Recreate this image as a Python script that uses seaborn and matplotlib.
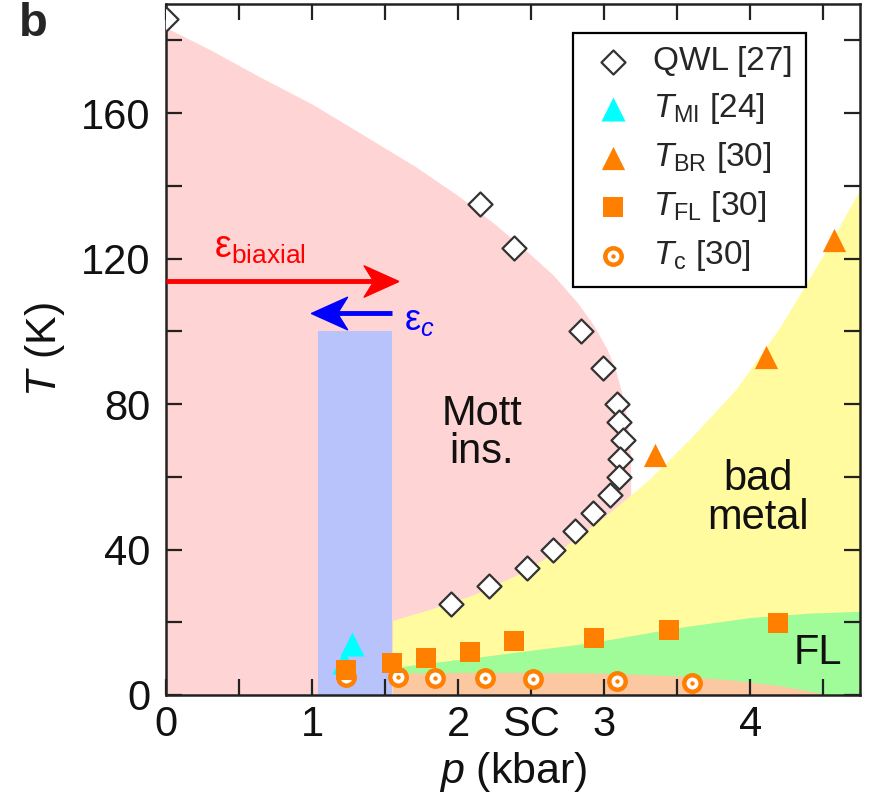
import matplotlib
matplotlib.use("Agg")
import matplotlib.pyplot as plt
import seaborn as sns
from matplotlib.legend_handler import HandlerTuple
from matplotlib.ticker import MultipleLocator

# ---- data ----
# QWL [27]
qwl_p = [0.0, 2.15, 2.38, 2.84, 2.99, 3.09, 3.10, 3.13, 3.11, 3.10, 3.04, 2.92, 2.80, 2.65, 2.47, 2.21, 1.95]
qwl_t = [186, 135, 123, 100, 90, 80, 75, 70, 65, 60, 55, 50, 45, 40, 35, 30, 25]
# T_MI [24]
mi_p = [1.22, 1.27]
mi_t = [9, 14]
# T_BR [30]
br_p = [3.35, 4.11, 4.57]
br_t = [66, 93, 125]
# T_FL [30]
fl_p = [1.23, 1.55, 1.78, 2.08, 2.38, 2.93, 3.44, 4.19]
fl_t = [6.9, 8.8, 10.2, 11.8, 14.8, 15.7, 17.8, 19.8]
# T_c [30]
tc_p = [1.23, 1.59, 1.84, 2.18, 2.51, 3.09, 3.60]
tc_t = [4.9, 4.9, 4.6, 4.6, 4.3, 3.8, 3.3]

# phase regions (boundaries)
mott_p = [0.0, 0.3, 0.64, 1.0, 1.33, 1.7, 2.01, 2.25, 2.47, 2.65, 2.82, 2.93, 3.02,
          3.08, 3.12, 3.15, 3.17, 3.18, 3.18]
mott_t = [183.5, 177.5, 170, 162.5, 154.5, 145.5, 137, 129.5, 122, 115.5, 107.7, 101.5, 95,
          89, 83, 77, 71, 65, 54]
bad_p = [1.55, 1.8, 2.1, 2.4, 2.7, 3.0, 3.3, 3.6, 3.9, 4.2, 4.5, 4.75]
bad_t = [20.5, 23.5, 27.5, 33, 40, 49, 59, 71, 84, 101, 121, 139]
flreg_p = [1.55, 1.8, 2.1, 2.4, 2.9, 3.5, 4.0, 4.4, 4.75]
flreg_t = [7.5, 8.8, 10.2, 11.8, 14.3, 18.5, 21.3, 22.5, 23.0]
sc_p = [1.55, 2.0, 2.5, 3.0, 3.5, 3.9, 4.2, 4.48, 4.6]
sc_t = [6.0, 6.2, 6.2, 6.0, 5.3, 4.0, 2.6, 0.5, 0.0]
band_p = [1.04, 1.55]
band_top = 100

orange = '#ff7f00'

sns.set_style("ticks")
plt.rcParams['font.family'] = ['Liberation Sans', 'DejaVu Sans']
plt.rcParams['mathtext.fontset'] = 'custom'
plt.rcParams['mathtext.rm'] = 'Liberation Sans'
plt.rcParams['mathtext.it'] = 'Liberation Sans:italic'
plt.rcParams['mathtext.bf'] = 'Liberation Sans:bold'

fig, ax = plt.subplots(figsize=(8.72, 8.08), dpi=100)
fig.subplots_adjust(left=0.1904, right=0.9862, bottom=0.1399, top=0.995)

# regions
ax.fill_between(mott_p, 0, mott_t, color='#ffd4d4', lw=0, zorder=0)
ax.fill_between(bad_p, 0, bad_t, color='#fffb9e', lw=0, zorder=0.1)
ax.fill_between(flreg_p, 0, flreg_t, color='#9ffc98', lw=0, zorder=0.2)
ax.fill_between(sc_p, 0, sc_t, color='#fcc8a2', lw=0, zorder=0.3)
ax.fill_between(band_p, 0, band_top, color='#b9c3fb', lw=0, zorder=0.4)

# data points
sns.scatterplot(x=qwl_p, y=qwl_t, marker='D', s=150, facecolor='white',
                edgecolor='#333333', linewidth=1.6, label='QWL [27]', zorder=5, ax=ax)
sns.scatterplot(x=mi_p, y=mi_t, marker='^', s=300, color='cyan', linewidth=0,
                label=r'$T_{\rm MI}$ [24]', zorder=5, ax=ax)
sns.scatterplot(x=br_p, y=br_t, marker='^', s=280, color=orange, linewidth=0,
                label=r'$T_{\rm BR}$ [30]', zorder=5, ax=ax)
sns.scatterplot(x=tc_p, y=tc_t, marker='o', s=140, facecolor='white',
                edgecolor=orange, linewidth=3.2, label=r'$T_{\rm c}$ [30]', zorder=5, ax=ax)
tc_ring = ax.collections[-1]
sns.scatterplot(x=tc_p, y=tc_t, marker='o', s=10, color=orange, linewidth=0,
                zorder=6, ax=ax)
tc_dot = ax.collections[-1]
sns.scatterplot(x=fl_p, y=fl_t, marker='s', s=200, color=orange, linewidth=0,
                label=r'$T_{\rm FL}$ [30]', zorder=7, ax=ax)

# strain arrows (line + notched arrow head)
head_r = [(0.5, 0), (-0.5, 0.45), (-0.22, 0), (-0.5, -0.45), (0.5, 0)]
head_l = [(-x, y) for x, y in head_r]
ax.plot([0.0, 1.42], [113.7, 113.7], color='red', lw=3.5, zorder=8,
        solid_capstyle='butt', clip_on=False)
ax.plot([1.47], [113.7], marker=head_r, markersize=25, color='red', lw=0,
        zorder=8)
ax.text(0.33, 123, r'$\mathrm{ε}_{\mathrm{biaxial}}$', color='red', fontsize=27,
        ha='left', va='center', zorder=8)
ax.plot([1.55, 1.14], [105, 105], color='blue', lw=3.5, zorder=8,
        solid_capstyle='butt')
ax.plot([1.115], [105], marker=head_l, markersize=26, color='blue', lw=0,
        zorder=8)
ax.text(1.63, 103, r'$\mathrm{ε}_{c}$', color='blue', fontsize=26,
        ha='left', va='center', zorder=8)

# region labels
ax.text(2.16, 72, 'Mott\nins.', fontsize=30, ha='center', va='center',
        linespacing=0.95, color='#111111', zorder=8)
ax.text(4.05, 54, 'bad\nmetal', fontsize=30, ha='center', va='center',
        linespacing=0.95, color='#111111', zorder=8)
ax.text(4.46, 11.5, 'FL', fontsize=30, ha='center', va='center',
        color='#111111', zorder=8)
ax.annotate('SC', xy=(2.5, 0), xycoords=('data', 'axes fraction'),
            xytext=(0, -7), textcoords='offset points', ha='center', va='top',
            fontsize=30, color='#111111')

# axes
ax.set_xlim(0, 4.75)
ax.set_ylim(0, 190)
ax.xaxis.set_major_locator(MultipleLocator(1))
ax.xaxis.set_minor_locator(MultipleLocator(0.5))
ax.yaxis.set_major_locator(MultipleLocator(40))
ax.yaxis.set_minor_locator(MultipleLocator(20))
ax.tick_params(which='both', direction='in', top=True, right=True,
               length=11.5, width=1.6, color='#222222')
ax.tick_params(axis='x', which='major', labelsize=30, pad=7, labelcolor='#111111')
ax.tick_params(axis='y', which='major', labelsize=30, pad=11, labelcolor='#111111')
for sp in ax.spines.values():
    sp.set_linewidth(1.8)
    sp.set_color('#222222')
ax.set_xlabel(r'$p$ (kbar)', fontsize=31, labelpad=4, color='#111111')
ax.set_ylabel(r'$T$ (K)', fontsize=31, labelpad=10, color='#111111')

# legend
handles, labels = ax.get_legend_handles_labels()
order = ['QWL [27]', r'$T_{\rm MI}$ [24]', r'$T_{\rm BR}$ [30]',
         r'$T_{\rm FL}$ [30]', r'$T_{\rm c}$ [30]']
hmap = dict(zip(labels, handles))
hmap[r'$T_{\rm c}$ [30]'] = (tc_ring, tc_dot)
ax.legend([hmap[k] for k in order], order, loc='upper right',
          bbox_to_anchor=(0.922, 0.958), borderaxespad=0, fontsize=24,
          frameon=True, fancybox=False, edgecolor='black', framealpha=1,
          labelspacing=0.42, handlelength=1.6, handletextpad=0.4,
          borderpad=0.4, handler_map={tuple: HandlerTuple(ndivide=1)})
ax.get_legend().get_frame().set_linewidth(1.6)

fig.text(0.022, 0.997, 'b', fontsize=34, fontweight='bold', ha='left', va='top')

fig.savefig('out.png', dpi=100)
